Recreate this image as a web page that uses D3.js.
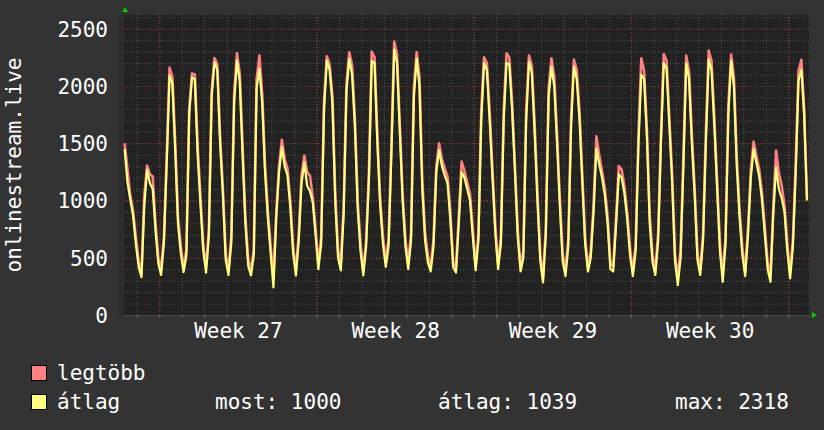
<!DOCTYPE html>
<html>
<head>
<meta charset="utf-8">
<script src="https://cdn.jsdelivr.net/npm/d3@7"></script>
<style>
  body { margin: 0; background: #333333; }
  svg { display: block; }
  text { font-family: "DejaVu Sans Mono", monospace; font-size: 21px; fill: #ffffff; }
</style>
</head>
<body>
<div id="chart-area"></div>
<script>
/* onlinestream.live - weekly traffic graph */

// samples every 3 hours, from Sat 2019-06-29 11:00 UTC to Mon 2019-07-29 20:00 UTC
var firstSample = new Date(Date.UTC(2019, 5, 29, 11));
var stepHours = 3;

// "átlag" (average)
var avgValues = [
    1450, 1160, 1010, 870, 620,                      // Sat 29
    420, 330, 950, 1270, 1150, 1100, 740, 450,       // Sun 30
    350, 635, 1330, 2090, 2020, 1450, 800, 540,      // Mon 1
    375, 520, 1750, 2075, 2060, 1400, 970, 560,      // Tue 2
    370, 690, 1900, 2207, 2140, 1500, 1050, 480,     // Wed 3
    350, 635, 1850, 2222, 2040, 1400, 800, 430,      // Thu 4
    345, 520, 1980, 2150, 1850, 1250, 850, 540,      // Fri 5
    240, 850, 1250, 1465, 1300, 1220, 940, 540,      // Sat 6
    344, 650, 1150, 1330, 1130, 1080, 985, 700,      // Sun 7
    400, 620, 1780, 2222, 2140, 1850, 1000, 500,     // Mon 8
    390, 880, 1950, 2236, 2100, 1650, 930, 560,      // Tue 9
    345, 600, 1180, 2220, 2200, 1500, 960, 620,      // Wed 10
    420, 600, 1400, 2318, 2200, 1600, 1000, 600,     // Thu 11
    400, 650, 1900, 2236, 2000, 1100, 650, 460,      // Fri 12
    380, 600, 1250, 1436, 1300, 1220, 1150, 830,     // Sat 13
    420, 370, 800, 1250, 1200, 1100, 1000, 680,      // Sun 14
    390, 650, 1700, 2200, 2140, 1700, 1200, 720,     // Mon 15
    400, 620, 1700, 2200, 2190, 1790, 1250, 680,     // Tue 16
    380, 500, 1700, 2210, 2120, 1600, 1000, 480,     // Wed 17
    285, 700, 1900, 2170, 2000, 1500, 950, 470,      // Thu 18
    340, 600, 1650, 2170, 2060, 1700, 1150, 620,     // Fri 19
    380, 500, 900, 1450, 1320, 1200, 1050, 800,      // Sat 20
    400, 380, 780, 1230, 1200, 1060, 830, 520,       // Sun 21
    340, 560, 1500, 2100, 2060, 1550, 800, 460,      // Mon 22
    350, 650, 1500, 2200, 2150, 1650, 1150, 470,     // Tue 23
    260, 500, 1300, 2200, 2060, 1500, 1050, 480,     // Wed 24
    350, 650, 1500, 2230, 2140, 1650, 1100, 560,     // Thu 25
    290, 620, 1750, 2220, 1990, 1300, 850, 520,      // Fri 26
    340, 700, 1200, 1450, 1330, 1210, 1000, 700,     // Sat 27
    400, 290, 880, 1290, 1100, 1020, 900, 560,       // Sun 28
    320, 600, 1250, 2050, 2140, 1750, 1000           // Mon 29
];

// "legtöbb" (maximum)
var maxValues = [
    1500, 1275, 1050, 910, 680,
    470, 360, 1040, 1305, 1230, 1210, 800, 500,
    400, 680, 1400, 2160, 2080, 1520, 860, 600,
    420, 570, 1800, 2110, 2100, 1480, 1040, 610,
    420, 750, 1960, 2245, 2190, 1560, 1100, 530,
    400, 690, 1930, 2286, 2110, 1480, 860, 490,
    390, 570, 2060, 2265, 1930, 1310, 910, 600,
    320, 900, 1300, 1529, 1360, 1280, 1000, 600,
    390, 700, 1220, 1392, 1246, 1217, 1030, 750,
    450, 680, 1850, 2260, 2190, 1910, 1070, 560,
    460, 940, 2020, 2295, 2180, 1720, 1000, 620,
    390, 650, 1250, 2300, 2250, 1580, 1020, 680,
    480, 660, 1480, 2388, 2280, 1660, 1060, 660,
    460, 710, 1980, 2295, 2080, 1180, 720, 520,
    420, 660, 1300, 1500, 1360, 1280, 1210, 900,
    460, 420, 860, 1340, 1260, 1160, 1060, 740,
    430, 710, 1780, 2251, 2200, 1780, 1270, 780,
    440, 680, 1780, 2286, 2250, 1850, 1310, 740,
    430, 560, 1780, 2265, 2180, 1680, 1080, 540,
    320, 760, 1980, 2242, 2080, 1580, 1010, 530,
    400, 660, 1720, 2230, 2140, 1780, 1220, 680,
    420, 560, 960, 1561, 1400, 1260, 1110, 860,
    450, 430, 840, 1300, 1270, 1120, 890, 580,
    380, 620, 1580, 2242, 2130, 1620, 870, 520,
    400, 710, 1580, 2280, 2220, 1720, 1220, 530,
    330, 570, 1400, 2265, 2130, 1580, 1110, 540,
    400, 710, 1600, 2310, 2220, 1730, 1170, 620,
    350, 680, 1830, 2274, 2070, 1380, 920, 580,
    380, 760, 1260, 1514, 1390, 1270, 1060, 760,
    460, 340, 940, 1436, 1240, 1130, 960, 620,
    370, 660, 1330, 2130, 2228, 1800, 1020
];

var yTicks = [0, 500, 1000, 1500, 2000, 2500];
var seriesNames = ["legtöbb", "átlag"];
var seriesColors = ["#ff8080", "#ffff80"];
var legendStats = ["most: 1000", "átlag: 1039", "max: 2318"];
var yTitle = "onlinestream.live";

var margin = { left: 124, right: 15, top: 15, bottom: 115 };
var totalW = 824, totalH = 430;
var width = totalW - margin.left - margin.right;
var height = totalH - margin.top - margin.bottom;

var svg = d3.select("#chart-area")
    .append("svg")
    .attr("width", totalW)
    .attr("height", totalH);

svg.append("rect")
    .attr("width", totalW)
    .attr("height", totalH)
    .attr("fill", "#333333");

var g = svg.append("g")
    .attr("transform", "translate(" + margin.left + "," + margin.top + ")");

var x = d3.scaleUtc()
    .domain([new Date(Date.UTC(2019, 5, 29, 10, 20)), new Date(Date.UTC(2019, 6, 29, 22, 10))])
    .range([0, width]);

var y = d3.scaleLinear()
    .domain([0, 2620])
    .range([height, 0]);

var times = avgValues.map(function(d, i) {
    return d3.utcHour.offset(firstSample, i * stepHours);
});

// canvas
g.append("rect")
    .attr("width", width)
    .attr("height", height)
    .attr("fill", "#222222");

// grid
function grid(axis, cls, color) {
    var gg = g.append("g").attr("class", cls).call(axis);
    gg.select(".domain").remove();
    gg.selectAll("line")
        .attr("stroke", color)
        .attr("stroke-dasharray", "1,2");
    gg.selectAll("text").remove();
    return gg;
}

grid(d3.axisLeft(y).tickValues(d3.range(0, 2601, 100)).tickSize(-width), "ygrid-minor", "#555555");
grid(d3.axisBottom(x).ticks(d3.utcDay.every(1)).tickSize(-height - 3), "xgrid-minor", "#555555")
    .attr("transform", "translate(0," + height + ")");
grid(d3.axisLeft(y).tickValues(yTicks).tickSize(-width), "ygrid-major", "#9a3c3c");
grid(d3.axisBottom(x).ticks(d3.utcMonday.every(1)).tickSize(-height - 3), "xgrid-major", "#9a3c3c")
    .attr("transform", "translate(0," + height + ")");

// small ticks outside canvas
var tickBottom = g.append("g")
    .attr("transform", "translate(0," + height + ")")
    .call(d3.axisBottom(x).ticks(d3.utcDay.every(1)).tickSize(3).tickFormat(""));
tickBottom.select(".domain").attr("stroke", "#4a4a4a");
tickBottom.selectAll("line").attr("stroke", "#666666");

g.append("line")
    .attr("x1", -3).attr("x2", -3)
    .attr("y1", 0).attr("y2", height)
    .attr("stroke", "#2c2c2c")
    .attr("stroke-width", 5);

// lines
var line = d3.line()
    .x(function(d, i) { return x(times[i]); })
    .y(function(d) { return y(d); });

g.append("path")
    .datum(maxValues)
    .attr("fill", "none")
    .attr("stroke", seriesColors[0])
    .attr("stroke-width", 2.6)
    .attr("stroke-linejoin", "round")
    .attr("d", line);

g.append("path")
    .datum(avgValues)
    .attr("fill", "none")
    .attr("stroke", seriesColors[1])
    .attr("stroke-width", 2.2)
    .attr("stroke-linejoin", "round")
    .attr("d", line);

// y labels
var yAxis = g.append("g")
    .call(d3.axisLeft(y).tickValues(yTicks).tickSize(0).tickPadding(16).tickFormat(d3.format("d")));
yAxis.select(".domain").remove();
yAxis.selectAll("text")
    .attr("dy", "7.5px")
    .style("font-family", "DejaVu Sans Mono")
    .style("font-size", "21px")
    .attr("fill", "#ffffff");

// x labels, centred in each week
var labelTimes = d3.utcMonday.range(d3.utcDay.offset(x.domain()[0], -7), x.domain()[1])
    .map(function(d) { return d3.utcHour.offset(d, 84); })
    .filter(function(d) { return d > x.domain()[0] && d < x.domain()[1]; });

var xAxis = g.append("g")
    .attr("transform", "translate(0," + height + ")")
    .call(d3.axisBottom(x).tickValues(labelTimes).tickSize(0).tickPadding(8)
        .tickFormat(d3.utcFormat("Week %V")));
xAxis.select(".domain").remove();
xAxis.selectAll("text")
    .attr("dy", "15px")
    .style("font-family", "DejaVu Sans Mono")
    .style("font-size", "21px")
    .attr("fill", "#ffffff");

// axis arrows
svg.append("path")
    .attr("d", "M" + (margin.left + 1) + "," + (margin.top - 8) + "l-3,5h6z")
    .attr("fill", "#00cc00");
svg.append("path")
    .attr("d", "M" + (margin.left + width + 8) + "," + (margin.top + height) + "l-5,-3v6z")
    .attr("fill", "#00cc00");

// y title
svg.append("text")
    .attr("transform", "translate(21," + (margin.top + height / 2) + ") rotate(-90)")
    .attr("text-anchor", "middle")
    .text(yTitle);

// legend
var legend = svg.append("g");
seriesNames.forEach(function(name, i) {
    legend.append("rect")
        .attr("x", 31.5).attr("y", 365.5 + i * 29)
        .attr("width", 15).attr("height", 15)
        .attr("fill", seriesColors[i])
        .attr("stroke", "#000000");
    legend.append("text")
        .attr("x", 57).attr("y", 380 + i * 29)
        .text(name);
});

var statX = [215, 438, 675];
legendStats.forEach(function(s, i) {
    legend.append("text")
        .attr("x", statX[i]).attr("y", 409)
        .text(s);
});
</script>
</body>
</html>
